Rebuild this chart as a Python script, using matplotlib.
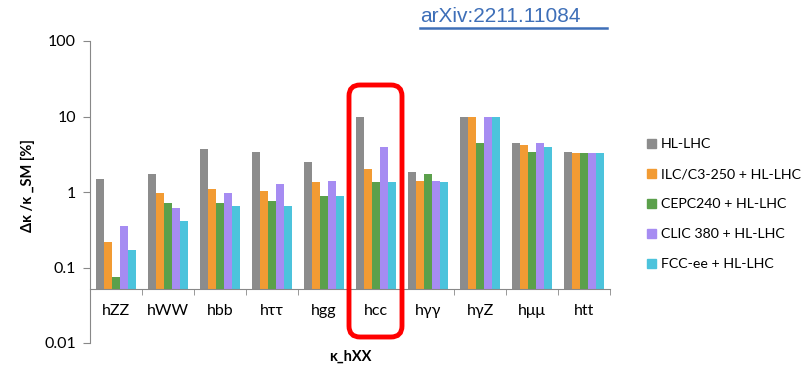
import numpy as np
import matplotlib
matplotlib.use("Agg")
from matplotlib import pyplot as plt
from matplotlib.patches import Patch, FancyBboxPatch

plt.rcParams['font.family'] = ['Lato', 'DejaVu Sans']

#------------  data -----------------------
categories = ["hZZ", "hWW", "hbb", "hττ", "hgg", "hcc", "hγγ", "hγZ", "hμμ", "htt"]
series = ["HL-LHC", "ILC/C3-250 + HL-LHC", "CEPC240 + HL-LHC",
          "CLIC 380 + HL-LHC", "FCC-ee + HL-LHC"]
hl_lhc = [1.5, 1.73, 3.75, 3.4, 2.5, 10.0, 1.82, 10.0, 4.4, 3.4]
ilc    = [0.22, 0.98, 1.08, 1.04, 1.34, 2.04, 1.41, 10.0, 4.2, 3.25]
cepc   = [0.074, 0.72, 0.72, 0.76, 0.885, 1.34, 1.73, 4.4, 3.4, 3.25]
clic   = [0.35, 0.62, 0.98, 1.28, 1.41, 3.98, 1.41, 10.0, 4.4, 3.25]
fccee  = [0.17, 0.41, 0.65, 0.65, 0.885, 1.34, 1.34, 10.0, 3.98, 3.25]
yticks = [0.01, 0.1, 1, 10, 100]
ytick_labels = ["0.01", "0.1", "1", "10", "100"]

colors = ["#8c8c8c", "#f29b33", "#5ba04b", "#a68cf2", "#4cc3dc"]
base = 0.052   # where the category axis crosses

#------------  figure -----------------------
fig = plt.figure(figsize=(8.02, 3.65), dpi=100)
ax = fig.add_axes([90/802, 22/365, 520/802, 302/365])

x = np.arange(len(categories))
w = 0.155
for i, vals in enumerate([hl_lhc, ilc, cepc, clic, fccee]):
    v = np.array(vals)
    ax.bar(x + (i - 2)*0.158, v - base, bottom=base, width=w,
           color=colors[i], linewidth=0)

ax.set_yscale('log')
ax.set_ylim(0.01, 100)
ax.set_xlim(-0.5, 9.5)
ax.set_yticks(yticks)
ax.set_yticklabels(ytick_labels)
ax.yaxis.set_minor_locator(matplotlib.ticker.NullLocator())
ax.tick_params(axis='y', length=5, color='#888888', labelsize=11.5, pad=5)

ax.spines['top'].set_visible(False)
ax.spines['right'].set_visible(False)
ax.spines['left'].set_color('#888888')
ax.spines['bottom'].set_color('#888888')
ax.spines['bottom'].set_position(('data', base))

ax.set_xticks(x)
ax.set_xticklabels(categories)
ax.set_xticks(np.arange(0.5, 10, 1), minor=True)
ax.tick_params(axis='x', which='major', length=0, labelsize=11.5, pad=11)
ax.tick_params(axis='x', which='minor', length=4, color='#888888')

fig.text(28/802, 1 - 185/365, "Δκ /κ _SM [%]", rotation=90, fontsize=10.5,
         fontweight='bold', ha='center', va='center')
fig.text(350/802, 1 - 357/365, "κ_hXX", fontsize=10.5, fontweight='bold',
         ha='center', va='center')

# legend
handles = [Patch(color=c, label=s) for c, s in zip(colors, series)]
fig.legend(handles=handles, loc='upper left', bbox_to_anchor=(640/802, 1 - 131/365),
           frameon=False, fontsize=10.2, handlelength=0.6, handleheight=0.6,
           handletextpad=0.4, labelspacing=1.27, borderpad=0)

# highlight box round hcc
box = FancyBboxPatch((3.49, 0.28), 0.53, 2.52,
                     boxstyle="round,pad=0,rounding_size=0.11",
                     transform=fig.dpi_scale_trans, fill=False,
                     edgecolor='#ff0000', linewidth=3.5)
fig.patches.append(box)

# reference
fig.text(420/802, 1 - 17/365, "arXiv:2211.11084", fontsize=15,
         color='#3e6fb8', ha='left', va='center',
         family=['Liberation Sans', 'DejaVu Sans'])
fig.add_artist(plt.Line2D([420/802, 607/802], [1 - 28/365, 1 - 28/365],
                          transform=fig.transFigure, color='#3e6fb8', linewidth=1.8))

fig.savefig("out.png", dpi=100)
